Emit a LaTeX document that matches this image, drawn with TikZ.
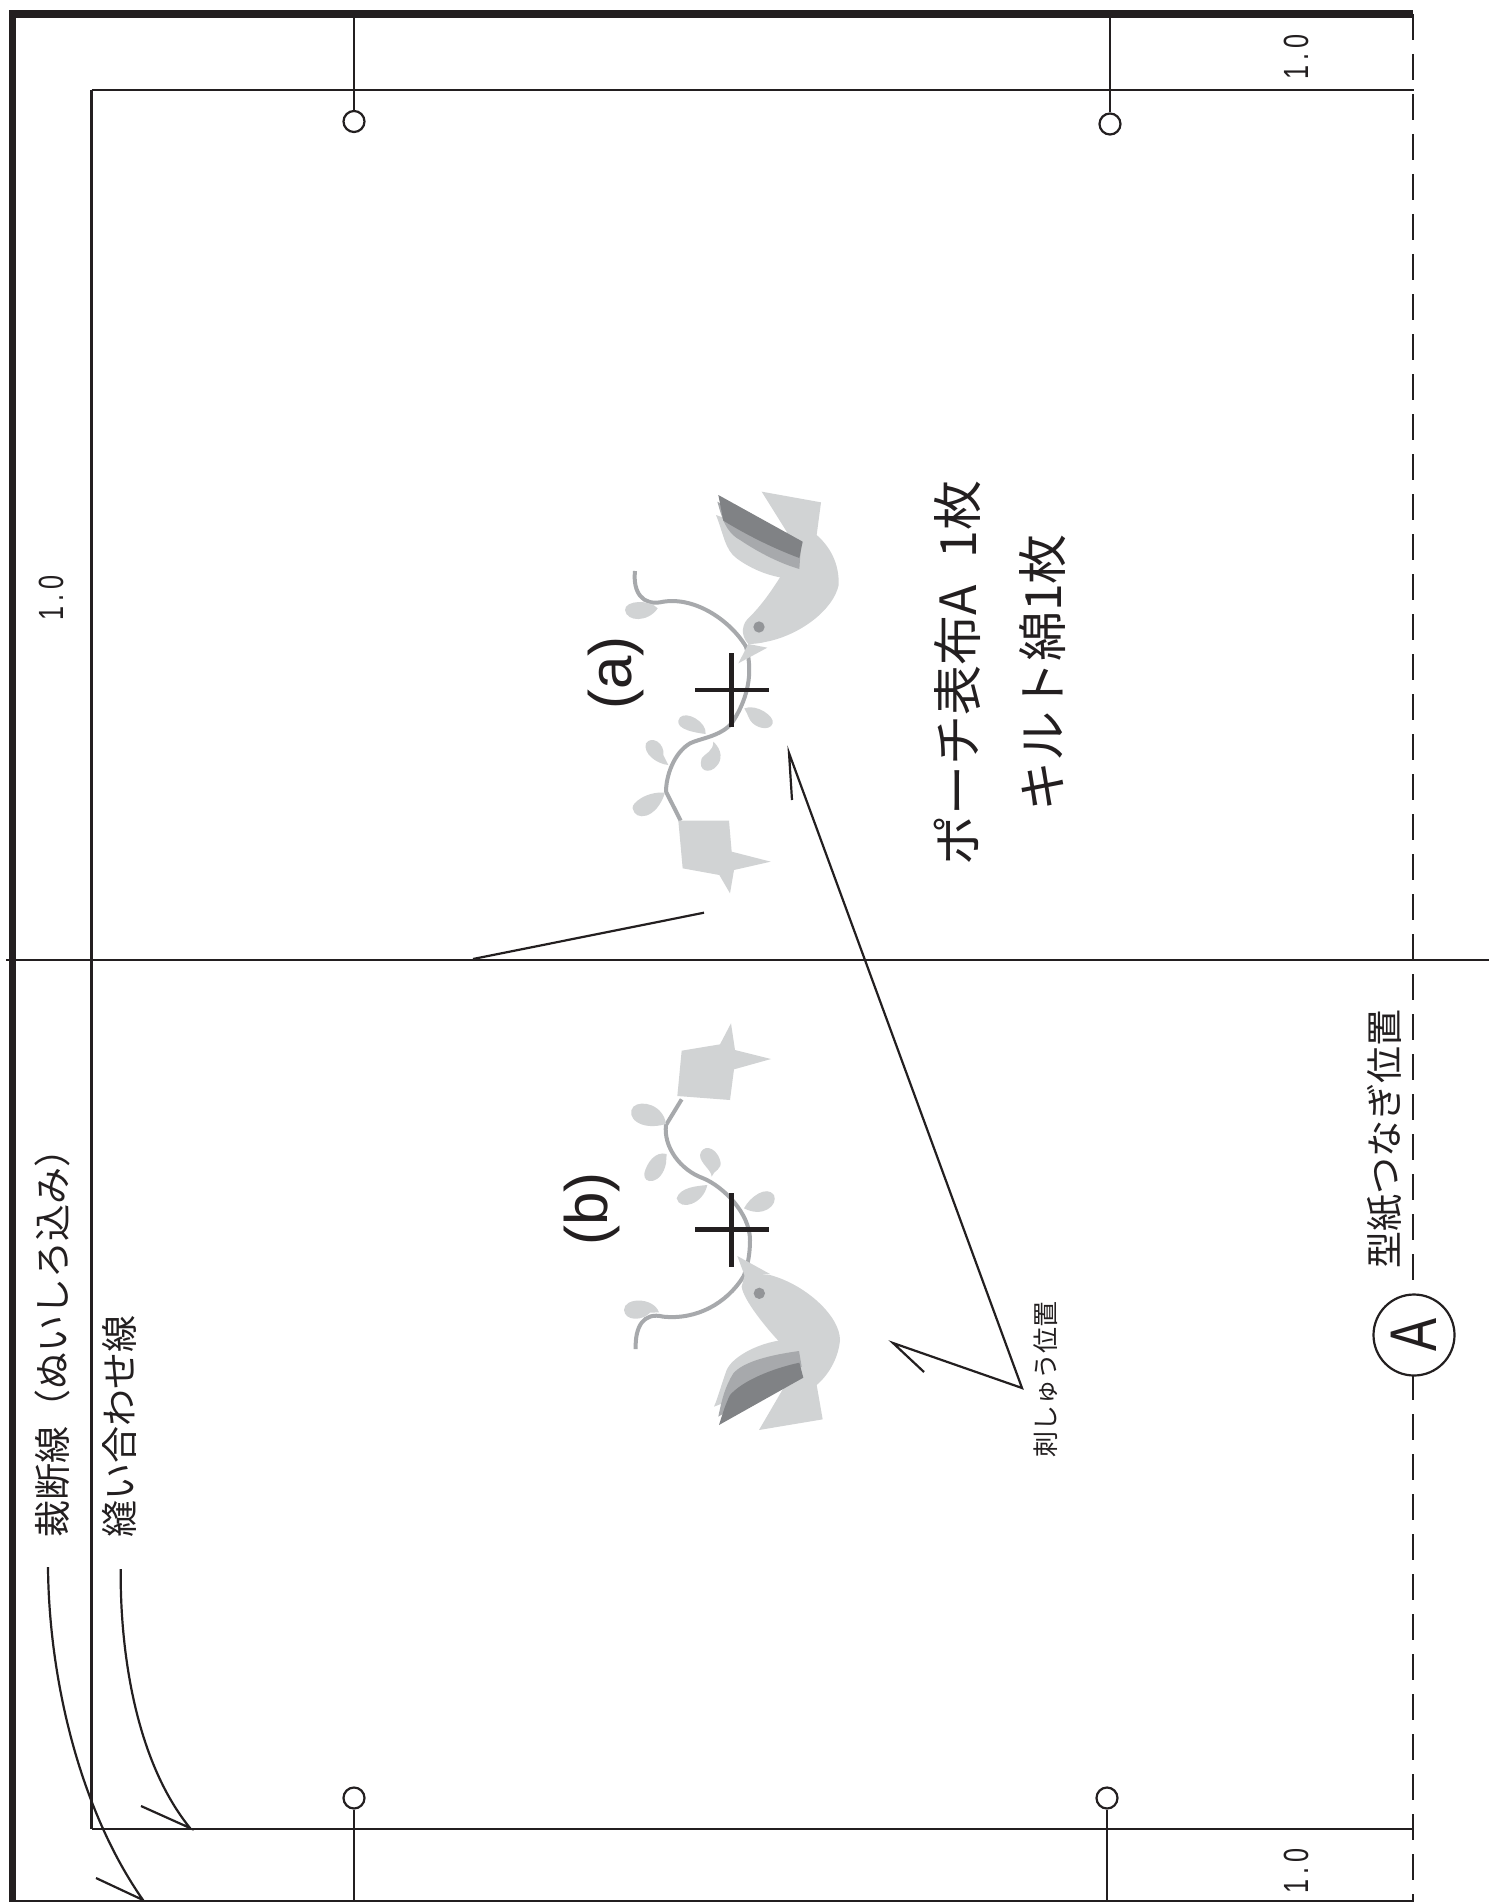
\documentclass[tikz,border=0pt]{standalone}
\usepackage{fontspec}
\usepackage{graphicx}
\setmainfont{Liberation Sans}
\newfontfamily\jpfont{Noto Sans CJK JP}
\definecolor{ink}{HTML}{231F20}
\definecolor{birdlt}{HTML}{D1D3D4}
\definecolor{birdmd}{HTML}{A7A9AC}
\definecolor{birddk}{HTML}{808285}
\definecolor{birdeye}{HTML}{939598}
\newcommand{\fsz}[1]{\fontsize{#1}{#1}\selectfont}
\newcommand{\onept}{\scalebox{.72}[1]{1\kern.2em.\kern.2em0}}
\tikzset{
  thinline/.style={draw=ink,line width=2.2pt},
  thickline/.style={draw=ink,line width=7.5pt},
  notch/.style={circle,draw=ink,line width=2.2pt,fill=white,minimum size=21pt,inner sep=0pt},
  cutmark/.style={draw=ink,line width=4.5pt,line cap=butt},
  vine/.style={draw=birdmd,line width=4pt},
  label/.style={rotate=90,inner sep=0pt,text=ink,font=\jpfont},
  dim/.style={rotate=90,inner sep=0pt,text=ink,font=\fsz{35}},
  za/.style={shift={(560,460)},scale=1/3},
  zb/.style={shift={(540,1000)},scale=1/3}
}
\begin{document}
\begin{tikzpicture}[x=1pt,y=-1pt]
\useasboundingbox (0,0) rectangle (1489,1902);
\fill[white] (0,0) rectangle (1489,1902);

% named points
\coordinate (tl) at (91.5,90);
\coordinate (tr) at (1414,90);
\coordinate (bl) at (91.5,1829);
\coordinate (br) at (1414,1829);
\coordinate (foldL) at (6,960);
\coordinate (foldR) at (1489,960);

% dashed join line
\draw[draw=ink,line width=2.3pt,dash pattern=on 26pt off 14pt] (1413,14) -- (1413,1902);

% seam rectangle
\draw[thinline] (tl) -- (tr);
\draw[thinline] (tl) -- (bl);
\draw[thinline] (bl) -- (br);
% fold
\draw[thinline] (foldL) -- (foldR);
% outer cut line
\draw[thinline] (12,1901) -- (1413,1901);
\draw[thickline] (1413,14) -- (12.5,14) -- (12.5,1902);

% notches
\coordinate (n1t) at (354,14);
\coordinate (n2t) at (1110,14);
\coordinate (n3b) at (354,1902);
\coordinate (n4b) at (1107,1902);
\node[notch] (n1) at (354,121.5) {};
\node[notch] (n2) at (1110,124) {};
\node[notch] (n3) at (354,1798) {};
\node[notch] (n4) at (1107,1798) {};
\draw[thinline] (n1t) -- (n1);
\draw[thinline] (n2t) -- (n2);
\draw[thinline] (n3b) -- (n3);
\draw[thinline] (n4b) -- (n4);

% dimensions
\node[dim] (d1) at (51,598) {\onept};
\node[dim] (d2) at (1296,57) {\onept};
\node[dim] (d3) at (1296,1871) {\onept};

% text
\node[label,font=\jpfont\fsz{37}] (t1) at (52,1334) {裁断線（ぬいしろ込み）};
\node[label,font=\jpfont\fsz{37}] (t2) at (119,1426) {縫い合わせ線};
\node[label,font=\jpfont\fsz{50}] (t3) at (957,673) {ポーチ表布A\hspace{27pt}1枚};
\node[label,font=\jpfont\fsz{50}] (t4) at (1043,673) {キルト綿1枚};
\node[label,font=\jpfont\fsz{26}] (t5) at (1046,1379) {刺しゅう位置};
\node[label,font=\jpfont\fsz{37}] (t6) at (1385,1139) {型紙つなぎ位置};
\node[rotate=90,inner sep=0pt,text=ink,font=\fsz{60}] (ta) at (616,673) {(a)};
\node[rotate=90,inner sep=0pt,text=ink,font=\fsz{60}] (tb) at (592,1209) {(b)};

% circle A
\node[circle,draw=ink,line width=2.2pt,fill=white,minimum size=81pt,inner sep=0pt] (A) at (1414,1335) {};
\node[rotate=90,inner sep=0pt,text=ink,font=\fsz{66}] (Aletter) at (1414,1335) {\scalebox{.75}[1]{A}};

% leaders
\coordinate (c1s) at (48,1567);
\coordinate (c1e) at (143,1900);
\coordinate (c1b) at (96,1878);
\draw[thinline] (c1s) .. controls (49,1680) and (80,1810) .. (c1e) -- (c1b);
\coordinate (c2s) at (120.7,1569);
\coordinate (c2e) at (190,1828);
\coordinate (c2b) at (141,1806);
\draw[thinline] (c2s) .. controls (120,1650) and (135,1760) .. (c2e) -- (c2b);
\coordinate (f1) at (473,959);
\coordinate (f2) at (704,912.7);
\draw[thinline] (f1) -- (f2);
\coordinate (apex) at (1022,1388);
\coordinate (up) at (789,753);
\coordinate (upb) at (792,800);
\coordinate (lo) at (893,1343);
\coordinate (lob) at (924,1372);
\draw[thinline,line join=miter] (upb) -- (up) -- (apex) -- (lo) -- (lob);

% bird (a)
\begin{scope}[za]
  \draw[vine] (225,333) .. controls (218,400) and (250,435) .. (300,427)
    .. controls (400,405) and (510,480) .. (558,560)
    .. controls (575,620) and (575,700) .. (515,790)
    .. controls (480,830) and (420,835) .. (390,850)
    .. controls (340,880) and (318,950) .. (318,995) -- (362,1082);
  \fill[birdlt] (293,445) .. controls (270,418) and (195,420) .. (195,450) .. controls (200,487) and (265,487) .. (293,445) -- cycle;
  \fill[birdlt] (553,745) .. controls (590,730) and (645,770) .. (638,790) .. controls (630,815) and (585,805) .. (570,780) .. controls (562,765) and (560,755) .. (553,745) -- cycle;
  \fill[birdlt] (437,822) .. controls (440,785) and (380,752) .. (360,772) .. controls (340,800) and (380,815) .. (437,822) -- cycle;
  \fill[birdlt] (460,845) .. controls (487,870) and (487,900) .. (470,918) .. controls (450,943) and (412,935) .. (425,895) .. controls (435,880) and (460,875) .. (460,845) -- cycle;
  \fill[birdlt] (325,915) .. controls (290,912) and (248,880) .. (258,850) .. controls (275,825) and (315,850) .. (310,885) -- cycle;
  \fill[birdlt] (315,998) .. controls (260,993) and (213,1030) .. (218,1045) .. controls (225,1085) and (290,1078) .. (315,998) -- cycle;
  \fill[birdlt] (355,1082) -- (507,1082) -- (515,1175) -- (632,1205) -- (522,1230) -- (510,1300) -- (478,1245) -- (368,1225) -- cycle;
  % beak
  \fill[birdlt] (535,610) -- (622,563) -- (565,552) -- cycle;
  % tail + body
  \fill[birdlt] (565,552) .. controls (540,525) and (545,490) .. (570,470)
    .. controls (600,440) and (630,400) .. (660,352)
    -- (680,215) -- (605,95) -- (783,127) -- (770,225)
    .. controls (810,260) and (838,310) .. (836,375)
    .. controls (820,450) and (720,525) .. (620,545)
    .. controls (600,550) and (580,552) .. (565,552) -- cycle;
  % wing
  \fill[birdlt] (468,165) .. controls (490,220) and (495,270) .. (530,295) .. controls (570,325) and (620,345) .. (660,352) -- (718,327) -- (700,250) -- cycle;
  \fill[birdmd] (472,125) .. controls (485,170) and (495,215) .. (540,240) .. controls (600,280) and (660,310) .. (718,327) -- (722,270) -- cycle;
  \fill[birddk] (475,105) -- (728,245) -- (718,294) .. controls (640,265) and (560,225) .. (490,182) -- cycle;
  \fill[birdeye] (597,501) circle (17);
  \draw[cutmark] (405,690) -- (627,690);
  \draw[cutmark] (515,580) -- (515,800);
\end{scope}

% bird (b)
\begin{scope}[zb]
  \draw[vine] (425,298) -- (378,375) .. controls (370,440) and (420,510) .. (490,535)
    .. controls (550,560) and (630,640) .. (630,720)
    .. controls (630,780) and (615,820) .. (610,830)
    .. controls (560,910) and (470,960) .. (370,950)
    .. controls (310,935) and (285,980) .. (287,1047);
  \fill[birdlt] (425,152) -- (540,133) -- (573,70) -- (585,150) -- (693,177) -- (582,208) -- (570,300) -- (412,288) -- cycle;
  \fill[birdlt] (378,372) .. controls (370,315) and (305,298) .. (280,320) .. controls (255,350) and (300,395) .. (378,372) -- cycle;
  \fill[birdlt] (380,462) .. controls (345,452) and (320,490) .. (313,520) .. controls (308,555) and (365,555) .. (378,490) -- cycle;
  \fill[birdlt] (515,530) .. controls (520,510) and (550,510) .. (540,480) .. controls (525,435) and (485,435) .. (480,465) .. controls (480,490) and (515,510) .. (515,530) -- cycle;
  \fill[birdlt] (502,555) .. controls (470,558) and (420,562) .. (410,595) .. controls (420,635) and (490,612) .. (502,555) -- cycle;
  \fill[birdlt] (612,625) .. controls (630,590) and (680,555) .. (702,585) .. controls (715,615) and (670,655) .. (612,625) -- cycle;
  \fill[birdlt] (357,937) .. controls (340,890) and (252,892) .. (252,930) .. controls (255,965) and (310,962) .. (330,938) -- cycle;
  % beak
  \fill[birdlt] (592,768) -- (690,822) -- (615,830) -- cycle;
  % body + tail
  \fill[birdlt] (615,822) -- (690,825)
    .. controls (800,855) and (900,950) .. (900,1020)
    .. controls (895,1080) and (860,1130) .. (830,1155)
    -- (848,1258) -- (657,1290) -- (730,1165) -- (715,1022)
    .. controls (680,985) and (610,900) .. (605,860) -- cycle;
  % wing
  \fill[birdlt] (715,1022) .. controls (640,1035) and (575,1075) .. (560,1110) .. controls (545,1150) and (535,1190) .. (522,1220) -- (700,1150) -- (780,1070) -- cycle;
  \fill[birdmd] (777,1053) .. controls (690,1065) and (610,1085) .. (580,1120) .. controls (555,1160) and (545,1200) .. (535,1250) -- (700,1150) -- (785,1100) -- cycle;
  \fill[birddk] (778,1088) .. controls (700,1105) and (610,1140) .. (570,1185) .. controls (555,1215) and (545,1250) .. (537,1275) -- (790,1133) -- cycle;
  \fill[birdeye] (658,880) circle (17);
  \draw[cutmark] (465,688) -- (687,688);
  \draw[cutmark] (575,580) -- (575,800);
\end{scope}
\end{tikzpicture}
\end{document}
